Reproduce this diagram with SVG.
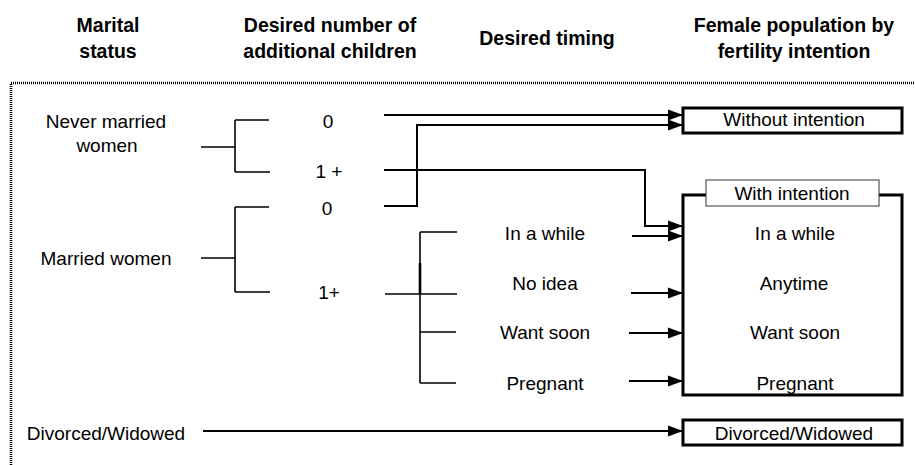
<svg xmlns="http://www.w3.org/2000/svg" width="915" height="465" viewBox="0 0 915 465">
<defs>
<marker id="ah" markerUnits="userSpaceOnUse" markerWidth="16" markerHeight="12" refX="15" refY="6" orient="auto">
<path d="M0,0.5 L15,6 L0,11.5 z" fill="#000"/>
</marker>
<style>
text{font-family:"Liberation Sans",Arial,sans-serif;font-size:19px;fill:#000;text-anchor:middle}
.h{font-weight:bold;font-size:19.5px}
.tree{stroke:#000;stroke-width:1.6;fill:none}
.con{stroke:#000;stroke-width:2;fill:none;marker-end:url(#ah)}
.box{fill:#fff;stroke:#000;stroke-width:3}
.lbl{fill:#fff;stroke:#333;stroke-width:1}
</style>
</defs>
<rect width="915" height="465" fill="#fff"/>
<rect x="11" y="83" width="1000" height="500" fill="none" stroke="#000" stroke-width="2.6" stroke-dasharray="1 1"/>

<g id="headers">
<text class="h" x="108" y="32">Marital</text>
<text class="h" x="108" y="58">status</text>
<text class="h" x="330" y="32">Desired number of</text>
<text class="h" x="330" y="58">additional children</text>
<text class="h" x="547" y="45">Desired timing</text>
<text class="h" x="794" y="32">Female population by</text>
<text class="h" x="794" y="58">fertility intention</text>
</g>

<g id="never-married">
<text x="106" y="128">Never married</text>
<text x="107" y="152">women</text>
</g>
<g id="married">
<text x="106" y="265">Married women</text>
</g>
<g id="divorced">
<text x="106" y="440">Divorced/Widowed</text>
</g>
<g id="nm-0"><text x="328" y="128">0</text></g>
<g id="nm-1"><text x="329" y="178">1 +</text></g>
<g id="m-0"><text x="327" y="215">0</text></g>
<g id="m-1"><text x="329" y="299">1+</text></g>
<g id="t-while"><text x="545" y="240">In a while</text></g>
<g id="t-noidea"><text x="545" y="290">No idea</text></g>
<g id="t-soon"><text x="545" y="339">Want soon</text></g>
<g id="t-preg"><text x="545" y="390">Pregnant</text></g>

<g id="box-without">
<rect class="box" x="683" y="108" width="219" height="25"/>
<text x="794" y="126">Without intention</text>
</g>
<g id="box-with">
<rect class="box" x="683" y="195" width="219" height="200"/>
<rect class="lbl" x="706" y="180" width="173" height="26"/>
<text x="792" y="200">With intention</text>
<text x="795" y="240">In a while</text>
<text x="794" y="290">Anytime</text>
<text x="795" y="339">Want soon</text>
<text x="795" y="390">Pregnant</text>
</g>
<g id="box-divorced">
<rect class="box" x="683" y="420" width="219" height="25"/>
<text x="794" y="440">Divorced/Widowed</text>
</g>

<g id="connectors">
<path class="tree" d="M201,147 H235 M235,120 V172 M235,120 H269 M235,172 H270"/>
<path class="tree" d="M201,258 H235 M235,207 V292 M235,207 H269 M235,292 H270"/>
<path class="tree" d="M385,294 H457 M420,232 V383 M420,232 H457 M420,332 H456 M420,383 H456"/>
<path d="M420,263 V294" stroke="#000" stroke-width="2.6"/>
<path class="con" d="M384,115 H683"/>
<path class="con" d="M384,206 H417 V125 H683"/>
<path class="con" d="M384,170 H645 V226 H683"/>
<path class="con" d="M632,236 H683"/>
<path class="con" d="M631,293 H683"/>
<path class="con" d="M629,333 H683"/>
<path class="con" d="M629,381 H683"/>
<path class="con" d="M203,431 H683"/>
</g>
</svg>
